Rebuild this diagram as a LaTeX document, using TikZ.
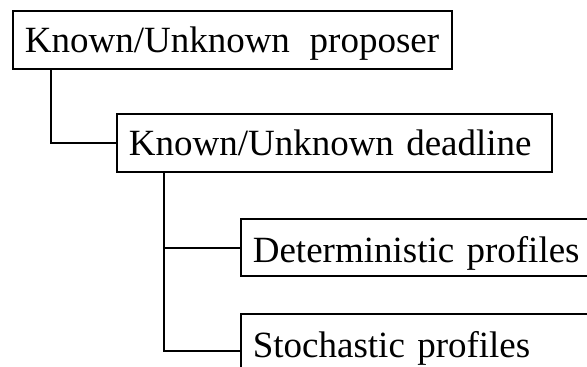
\documentclass[tikz,border=0pt]{standalone}
\usepackage{fontspec}
\setmainfont{Liberation Serif}
\usetikzlibrary{calc}
\begin{document}
\begin{tikzpicture}[x=1pt,y=-1pt,
  box/.style={draw, line width=1.7pt, anchor=north west, inner xsep=12pt,
    inner ysep=0pt, text height=36pt, text depth=10pt, align=left,
    font=\fontsize{37}{40}\selectfont, minimum height=58pt},
  link/.style={line width=1.8pt}]
\useasboundingbox (0,0) rectangle (587,367);
\clip (0,0) rectangle (587,367);
% hierarchy boxes
\node[box, text width=415pt] (prop) at (12,10) {Known/Unknown\hspace{0.2em} proposer};
\node[box, text width=411pt] (dead) at (116,113) {Known/Unknown deadline};
\node[box, text width=376pt, text depth=5pt, minimum height=57pt] (det) at (240,218) {Deterministic profiles};
\node[box, text width=376pt, minimum height=62pt] (stoc) at (240,313) {Stochastic profiles};
% tree connectors
\draw[link] ($(prop.south west)+(39,0)$) |- (dead.west);
\draw[link] ($(dead.south west)+(48,0)$) |- ($(det.west)+(0,0.5)$);
\draw[link] ($(dead.south west)+(48,0)$) |- ($(stoc.north west)+(0,38)$);
\end{tikzpicture}
\end{document}
